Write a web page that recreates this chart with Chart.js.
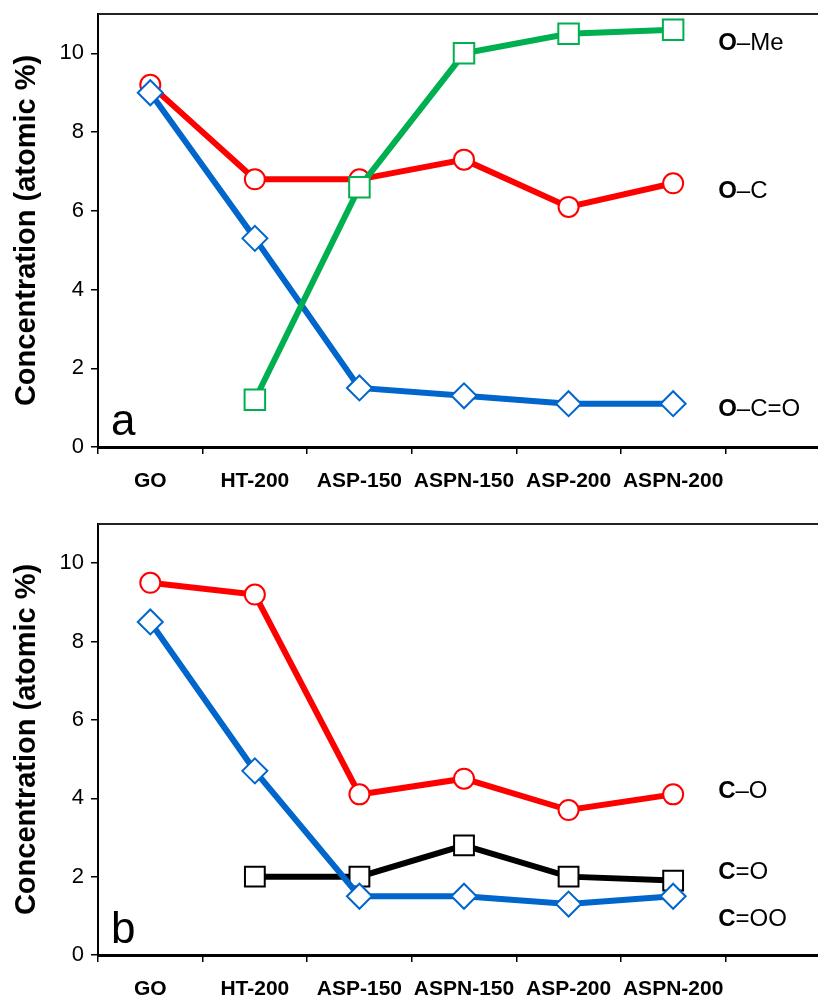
<!DOCTYPE html>
<html>
<head>
<meta charset="utf-8">
<script src="https://cdn.jsdelivr.net/npm/chart.js@4.4.1/dist/chart.umd.min.js"></script>
<style>
    html, body { margin: 0; padding: 0; background: #fff; overflow: hidden; width: 818px; height: 998px; }
    .panel { position: absolute; left: 0; width: 830px; }
    #wrapA { top: 0; height: 500px; }
    #wrapB { top: 500px; height: 498px; }
</style>
</head>
<body>
<div class="panel" id="wrapA"><canvas id="panelA"></canvas></div>
<div class="panel" id="wrapB"><canvas id="panelB"></canvas></div>
<script>
// categories and tick values
const CATEGORIES = ['GO', 'HT-200', 'ASP-150', 'ASPN-150', 'ASP-200', 'ASPN-200'];
const Y_TICKS = [0, 2, 4, 6, 8, 10];

// panel a - oxygen species
const A_O_ME = [null, 1.2, 6.6, 10.0, 10.5, 10.6];
const A_O_C = [9.2, 6.8, 6.8, 7.3, 6.1, 6.7];
const A_O_C_O = [9.0, 5.3, 1.5, 1.3, 1.1, 1.1];
const A_NAMES = [['O', '\u2013Me'], ['O', '\u2013C'], ['O', '\u2013C=O']];
const A_NAME_Y = [10.25, 6.5, 0.95];

// panel b - carbon species
const B_C_O = [9.5, 9.2, 4.1, 4.5, 3.7, 4.1];
const B_C_DO = [null, 2.0, 2.0, 2.8, 2.0, 1.9];
const B_C_OO = [8.5, 4.7, 1.5, 1.5, 1.3, 1.5];
const B_NAMES = [['C', '\u2013O'], ['C', '=O'], ['C', '=OO']];
const B_NAME_Y = [4.17, 2.1, 0.92];

const FONT = '"Liberation Sans", Arial, sans-serif';
const RED = '#ff0000', BLUE = '#0066cc', GREEN = '#00b050', BLACK = '#000000';

// top frame line, panel letter and series names
const panelDecor = {
    id: 'panelDecor',
    afterDraw(chart, args, opts) {
        const { ctx, chartArea: a, scales } = chart;
        ctx.save();
        ctx.strokeStyle = '#222';
        ctx.lineWidth = 2;
        ctx.beginPath();
        ctx.moveTo(a.left, a.top);
        ctx.lineTo(a.right, a.top);
        ctx.stroke();

        ctx.fillStyle = '#000';
        ctx.textAlign = 'left';
        ctx.textBaseline = 'alphabetic';
        ctx.font = '44px ' + FONT;
        ctx.fillText(opts.letter, a.left + 13, a.bottom - 12);

        const x0 = scales.x.getPixelForValue(5) + 45;
        ctx.textBaseline = 'middle';
        opts.names.forEach((n, i) => {
            const y = scales.y.getPixelForValue(opts.nameY[i]);
            ctx.font = 'bold 24px ' + FONT;
            ctx.fillText(n[0], x0, y);
            const w = ctx.measureText(n[0]).width;
            ctx.font = '24px ' + FONT;
            ctx.fillText(n[1], x0 + w, y);
        });
        ctx.restore();
    }
};

function series(data, color, style, r) {
    return {
        data: data,
        borderColor: color,
        borderWidth: 6,
        pointStyle: style,
        pointRadius: r,
        pointHoverRadius: r,
        pointBorderWidth: 2,
        pointBorderColor: color,
        pointBackgroundColor: '#fff',
        tension: 0,
        clip: false,
    };
}

function makePanel(id, datasets, letter, names, nameY, padTop, xHeight) {
    const labels = CATEGORIES.concat(['']);
    return new Chart(document.getElementById(id), {
        type: 'line',
        data: { labels: labels, datasets: datasets },
        plugins: [panelDecor],
        options: {
            responsive: true,
            maintainAspectRatio: false,
            animation: false,
            events: [],
            layout: { autoPadding: false, padding: { top: padTop, left: 0, right: 0, bottom: 0 } },
            plugins: {
                legend: { display: false },
                tooltip: { enabled: false },
                panelDecor: { letter: letter, names: names, nameY: nameY },
            },
            scales: {
                x: {
                    type: 'category',
                    offset: true,
                    afterFit: s => { s.height = xHeight; s.paddingLeft = 0; s.paddingRight = 0; },
                    grid: { offset: true, drawOnChartArea: false, tickLength: 7, color: '#000', lineWidth: 1.5 },
                    border: { display: true, color: '#000', width: 3 },
                    ticks: {
                        autoSkip: false, maxRotation: 0, padding: 15, color: '#000',
                        font: { family: FONT, size: 21, weight: 'bold' },
                    },
                },
                y: {
                    min: 0,
                    max: 11,
                    afterFit: s => { s.width = 98; s.paddingTop = 0; s.paddingBottom = 0; },
                    afterBuildTicks: s => { s.ticks = Y_TICKS.map(v => ({ value: v })); },
                    grid: { drawOnChartArea: false, tickLength: 7, color: '#000', lineWidth: 1.5 },
                    border: { display: true, color: '#000', width: 2 },
                    ticks: { padding: 7, color: '#000', font: { family: FONT, size: 22 } },
                    title: {
                        display: true,
                        text: 'Concentration (atomic %)',
                        color: '#000',
                        padding: { top: 10, bottom: 0 },
                        font: { family: FONT, size: 29, weight: 'bold' },
                    },
                },
            },
        },
    });
}

makePanel('panelA', [
    series(A_O_ME, GREEN, 'rect', 14.5),
    series(A_O_C_O, BLUE, 'rectRot', 12.5),
    series(A_O_C, RED, 'circle', 10),
], 'a', A_NAMES, A_NAME_Y, 14, 53);

makePanel('panelB', [
    series(B_C_OO, BLUE, 'rectRot', 12.5),
    series(B_C_DO, BLACK, 'rect', 14),
    series(B_C_O, RED, 'circle', 10),
], 'b', B_NAMES, B_NAME_Y, 24, 43);
</script>
</body>
</html>
